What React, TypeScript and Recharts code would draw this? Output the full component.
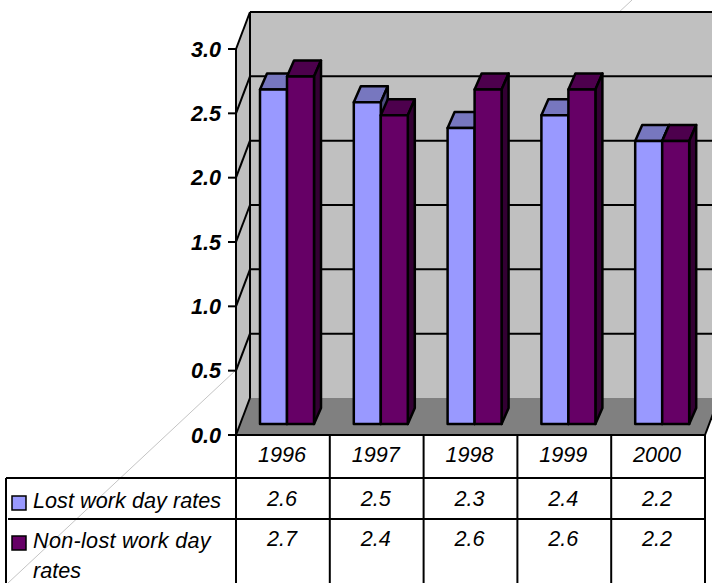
import React from 'react';
import { BarChart, Bar, XAxis, YAxis } from 'recharts';

const years = ['1996', '1997', '1998', '1999', '2000'];
const lostRates = [2.6, 2.5, 2.3, 2.4, 2.2];
const nonLostRates = [2.7, 2.4, 2.6, 2.6, 2.2];
const yTicks = [0, 0.5, 1, 1.5, 2, 2.5, 3];

const FONT = '"Liberation Sans", Arial, sans-serif';
const FONT_SIZE = 21.6;
const W = 712;
const H = 583;

// front plane of the plot
const LEFT = 236;
const RIGHT = 705;
const TOP = 49;
const BASE = 435;
// depth of the walls and of the bars
const WALL_DX = 14;
const WALL_DY = 37;
const BAR_DX = 7;
const BAR_DY = 16;
const BAR_SHIFT_X = 4;
const BAR_SHIFT_Y = -11;

const yPos = (v: number) => BASE - (v / 3) * (BASE - TOP);

const data = years.map((year, i) => ({
  year,
  lost: lostRates[i],
  nonLost: nonLostRates[i],
}));

const Bar3D = (props: any) => {
  const { width, height, front, top, side } = props;
  const x = props.x + BAR_SHIFT_X;
  const y = props.y + BAR_SHIFT_Y;
  const line = { stroke: '#000', strokeWidth: 2.5, strokeLinejoin: 'round' as const };
  return (
    <g>
      <polygon
        points={`${x},${y} ${x + BAR_DX},${y - BAR_DY} ${x + width + BAR_DX},${y - BAR_DY} ${x + width},${y}`}
        fill={top}
        {...line}
      />
      <polygon
        points={`${x + width},${y} ${x + width + BAR_DX},${y - BAR_DY} ${x + width + BAR_DX},${y + height - BAR_DY} ${x + width},${y + height}`}
        fill={side}
        {...line}
      />
      <rect x={x} y={y} width={width} height={height} fill={front} {...line} />
    </g>
  );
};

const TableTick = (props: any) => {
  const { x, index } = props;
  const cell = { x: x - 1, textAnchor: 'middle' as const, fontFamily: FONT, fontStyle: 'italic', fontSize: FONT_SIZE, fill: '#000' };
  return (
    <g>
      <text {...cell} y={462}>{years[index]}</text>
      <text {...cell} y={506}>{lostRates[index].toFixed(1)}</text>
      <text {...cell} y={546}>{nonLostRates[index].toFixed(1)}</text>
    </g>
  );
};

const Walls = () => (
  <g>
    <line x1={8} y1={583} x2={632} y2={0} stroke="#c4c4c4" strokeWidth={1} />
    <polygon
      points={`${LEFT},${TOP} ${LEFT + WALL_DX},${TOP - WALL_DY} ${LEFT + WALL_DX},${BASE - WALL_DY} ${LEFT},${BASE}`}
      fill="#c0c0c0"
    />
    <rect x={LEFT + WALL_DX} y={TOP - WALL_DY} width={W} height={BASE - TOP} fill="#c0c0c0" />
    <polygon
      points={`${LEFT},${BASE} ${LEFT + WALL_DX},${BASE - WALL_DY} ${RIGHT + WALL_DX},${BASE - WALL_DY} ${RIGHT},${BASE}`}
      fill="#808080"
    />
    <line x1={LEFT + WALL_DX} y1={TOP - WALL_DY} x2={LEFT + WALL_DX} y2={BASE - WALL_DY} stroke="#000" strokeWidth={2} />
    <line x1={RIGHT} y1={BASE} x2={RIGHT + WALL_DX} y2={BASE - WALL_DY} stroke="#000" strokeWidth={2} />
    {yTicks.map((t) => (
      <g key={t} stroke="#000" strokeWidth={2}>
        <line x1={LEFT} y1={yPos(t)} x2={LEFT + WALL_DX} y2={yPos(t) - WALL_DY} />
        {t > 0 && <line x1={LEFT + WALL_DX} y1={yPos(t) - WALL_DY} x2={W} y2={yPos(t) - WALL_DY} />}
      </g>
    ))}
  </g>
);

const DataTable = () => {
  const label = { fontFamily: FONT, fontStyle: 'italic', fontSize: FONT_SIZE, fill: '#000' };
  const columns = years.map((_, i) => LEFT + ((RIGHT - LEFT) / years.length) * i);
  return (
    <g>
      <g stroke="#000" strokeWidth={2}>
        <line x1={LEFT} y1={BASE} x2={RIGHT} y2={BASE} />
        <line x1={6} y1={478} x2={RIGHT} y2={478} />
        <line x1={8} y1={519} x2={RIGHT} y2={519} />
        <line x1={6} y1={478} x2={6} y2={H} />
        {columns.map((c) => (
          <line key={c} x1={c} y1={BASE} x2={c} y2={H} />
        ))}
        <line x1={RIGHT} y1={BASE} x2={RIGHT} y2={H} />
      </g>
      <rect x={12} y={496} width={14} height={14} fill="#9999ff" stroke="#000" strokeWidth={1.5} />
      <rect x={12} y={536} width={14} height={14} fill="#660066" stroke="#000" strokeWidth={1.5} />
      <text {...label} x={33} y={508} letterSpacing={0.05}>Lost work day rates</text>
      <text {...label} x={33} y={548} letterSpacing={0.3}>Non-lost work day</text>
      <text {...label} x={33} y={578}>rates</text>
    </g>
  );
};

export default function App() {
  return (
    <div style={{ position: 'absolute', left: 0, top: 0, width: W, height: H, background: '#fff' }}>
      <BarChart
        width={W}
        height={H}
        data={data}
        margin={{ top: TOP, right: W - RIGHT, bottom: 0, left: LEFT - 50 }}
        barCategoryGap={20}
        barGap={0}
      >
        <Walls />
        <DataTable />
        <XAxis dataKey="year" height={H - BASE} axisLine={false} tickLine={false} tick={<TableTick />} interval={0} />
        <YAxis
          domain={[0, 3]}
          ticks={yTicks}
          width={50}
          tickFormatter={(v: number) => v.toFixed(1)}
          axisLine={{ stroke: '#000', strokeWidth: 2 }}
          tickLine={{ stroke: '#000', strokeWidth: 2 }}
          tickSize={8}
          tickMargin={7}
          tick={{ fontFamily: FONT, fontStyle: 'italic', fontWeight: 700, fontSize: FONT_SIZE, fill: '#000' }}
        />
        <Bar
          dataKey="lost"
          isAnimationActive={false}
          shape={<Bar3D front="#9999ff" top="#7777bf" side="#4d4d80" />}
        />
        <Bar
          dataKey="nonLost"
          isAnimationActive={false}
          shape={<Bar3D front="#660066" top="#4d004d" side="#330033" />}
        />
      </BarChart>
    </div>
  );
}
